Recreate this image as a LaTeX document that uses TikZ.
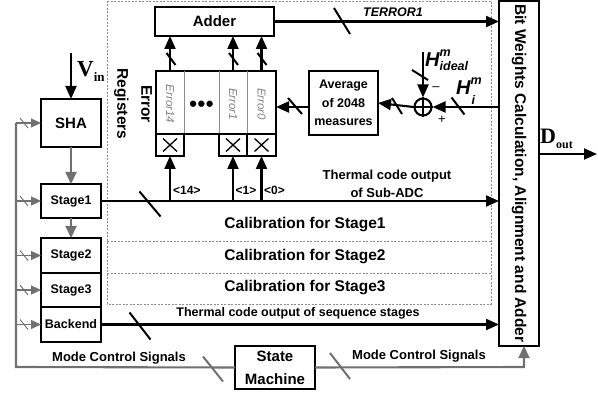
\documentclass[tikz,border=0pt]{standalone}
\usepackage{fontspec}
\setmainfont{Liberation Sans}
\newfontfamily\serifb{Liberation Serif}
\usetikzlibrary{arrows.meta}
\definecolor{mc}{RGB}{112,112,112}
\definecolor{dl}{RGB}{140,140,140}
\definecolor{et}{RGB}{130,130,130}
\newcommand{\fs}[1]{\fontsize{#1}{#1}\selectfont}
\newcommand{\bsl}[5]{\draw[line width=2pt,#5] ({#1-#3},{#2-#4}) -- ({#1+#3},{#2+#4});}
\newcommand{\xmark}[1]{\draw[line width=1.3pt] (#1.center) +(-7,-6.5) -- +(7,6.5) (#1.center) +(-7,6.5) -- +(7,-6.5);}
\begin{document}
\begin{tikzpicture}[x=1pt,y=-1pt,
  blk/.style={draw, line width=2.1pt, inner sep=0pt, outer sep=0pt, font=\bfseries\fs{15}, align=center},
  stg/.style={blk, minimum width=60pt, font=\bfseries\fs{12.5}},
  arr/.style={line width=2.1pt, -{Triangle[length=13pt,width=11pt]}},
  garr/.style={color=mc, line width=2.1pt, -{Triangle[length=12pt,width=11pt]}},
  gbr/.style={color=mc, line width=1.1pt, -{Triangle[length=10pt,width=9pt]}},
  gl/.style={color=mc, line width=2.1pt},
  dashl/.style={draw=dl, line width=0.8pt, dash pattern=on 2pt off 1.5pt},
  cellt/.style={rotate=-90, font=\itshape\fs{11.5}, text=et},
  lbl/.style={font=\bfseries\fs{12}, inner sep=0pt},
  cal/.style={font=\bfseries\fs{15.5}}]
\useasboundingbox (0,0) rectangle (598,393);

% calibration dashed region
\draw[dashl] (107,1) rectangle (491,304);
\draw[dashl] (107,241) -- (491,241);
\draw[dashl] (107,273) -- (491,273);

% blocks
\node[blk, minimum width=119pt, minimum height=29pt] (adder) at (214.5,21.5) {Adder};
\node[blk, minimum width=120pt, minimum height=63pt] (reg) at (216,102.5) {};
\draw[line width=0.6pt, black!45] (184,71) -- (184,134) (219,71) -- (219,134) (247,71) -- (247,134);
\node[cellt] (e14) at (170,104) {Error14};
\node[font=\bfseries\fs{22}] (dots) at (201.5,106) {\textbullet\hspace{0.5pt}\textbullet\hspace{0.5pt}\textbullet};
\node[cellt] (e1) at (233,104) {Error1};
\node[cellt] (e0) at (261.5,104) {Error0};
\node[blk, minimum width=28pt, minimum height=22pt] (x14) at (170,145) {};
\node[blk, minimum width=28pt, minimum height=22pt] (x1) at (233,145) {};
\node[blk, minimum width=29pt, minimum height=22pt] (x0) at (261.5,145) {};
\xmark{x14}\xmark{x1}\xmark{x0}
\node[rotate=-90, font=\bfseries\fontsize{15.5}{24}\selectfont, align=center] (erl) at (133,104) {Error\\Registers};

\node[blk, minimum width=69pt, minimum height=64pt, font=\bfseries\fontsize{12.5}{18.5}\selectfont] (avg) at (343.5,103) {Average\\of 2048\\measures};
\node[circle, draw, line width=2.1pt, minimum size=17pt, inner sep=0pt] (sum) at (423,107) {};
\draw[line width=1.6pt] (sum.north) -- (sum.south) (sum.west) -- (sum.east);

\node[blk, minimum width=40pt, minimum height=345pt] (bit) at (519,173.5) {};
\node[rotate=-90, font=\bfseries\fs{15.5}] (bitt) at (bit.center) {Bit Weights Calculation, Alignment and Adder};

\node[blk, minimum width=60pt, minimum height=48pt] (sha) at (71,123) {SHA};
\node[stg, minimum height=34pt] (st1) at (71,201) {Stage1};
\node[stg, minimum height=35pt] (st2) at (71,255.5) {Stage2};
\node[stg, minimum height=34pt] (st3) at (71,290) {Stage3};
\node[stg, minimum height=35pt] (bk) at (71,324.5) {Backend};
\node[blk, minimum width=80pt, minimum height=43pt, font=\bfseries\fontsize{15}{23}\selectfont] (sm) at (275,367.5) {State\\Machine};

% V_in and D_out
\coordinate (vin) at (71,53);
\draw[arr] (vin) -- (sha.north);
\node[font=\serifb\bfseries\fs{23}, anchor=base west, inner sep=0pt] (vl) at (77,77) {V\raisebox{-5pt}{\fs{13}in}};
\coordinate (dout) at (597,154);
\draw[arr] (bit.east |- dout) -- (dout);
\node[font=\serifb\bfseries\fs{22}, anchor=base west, inner sep=0pt] (dlb) at (540,144) {D\raisebox{-5pt}{\fs{12}out}};

% gray chain
\draw[garr] (sha.south) -- (st1.north);
\draw[garr] (st1.south) -- (st2.north);

% registers to adder
\draw[arr] (x14.south |- reg.north) -- (x14.south |- adder.south);
\draw[arr] (x1.south |- reg.north) -- (x1.south |- adder.south);
\draw[arr] (x0.south |- reg.north) -- (x0.south |- adder.south);
\bsl{171}{59}{4.5}{6}{}
\bsl{233.5}{59}{4.5}{6}{}
\bsl{262}{59}{4.5}{6}{}

% TERROR1
\draw[arr] (adder.east) -- (adder.east -| bit.west);
\bsl{342}{21}{8}{13}{}
\node[font=\bfseries\itshape\fs{12.5}] (terr) at (393,12) {TERROR1};

% H path
\draw[arr] (sum -| bit.west) -- (sum.east);
\draw[arr] (sum.west) -- (avg.east);
\draw[arr] (avg.west |- sum) -- (reg.east |- sum);
\coordinate (hin) at (423,52);
\draw[arr] (hin) -- (sum.north);
\bsl{458}{106}{6.5}{8.5}{}
\bsl{397}{106}{5}{8}{}
\bsl{295}{106}{7}{8}{}
\bsl{420}{75}{8}{5}{}
\node[anchor=base west, inner sep=0pt, font=\bfseries\itshape] (hid) at (425,67) {\fs{20}H\fs{12.5}\rlap{\raisebox{10pt}{m}}\raisebox{-4pt}{ideal}};
\node[anchor=base west, inner sep=0pt, font=\bfseries\itshape] (hi) at (456,95) {\fs{20}H\fs{12.5}\rlap{\raisebox{10pt}{m}}\raisebox{-10pt}{\hspace{1pt}i}};
\node[font=\fs{13}] (minus) at (436,89) {–};
\node[font=\fs{13}] (plus) at (442,120) {+};

% Stage1 output and taps
\draw[arr] (st1.east) -- (st1.east -| bit.west);
\bsl{150}{204}{10.5}{12.5}{}
\draw[arr] (x14.south |- st1.east) -- (x14.south);
\draw[arr] (x1.south |- st1.east) -- (x1.south);
\draw[arr] (x0.south |- st1.east) -- (x0.south);
\node[lbl, anchor=west] (l14) at (173,190) {<14>};
\node[lbl, anchor=west] (l1) at (235.5,190) {<1>};
\node[lbl, anchor=west] (l0) at (264,190) {<0>};
\node[font=\bfseries\fontsize{13}{18}\selectfont, align=center] (tc1) at (387,184) {Thermal code output\\of Sub-ADC};

\node[cal] (c1) at (305,225) {Calibration for Stage1};
\node[cal] (c2) at (305,257) {Calibration for Stage2};
\node[cal] (c3) at (305,288) {Calibration for Stage3};

% Backend output
\draw[arr] (bk.east) -- (bk.east -| bit.west);
\bsl{140}{326}{10.5}{13.5}{}
\node[font=\bfseries\fs{12.5}] (tc2) at (298,313) {Thermal code output of sequence stages};

% mode control
\coordinate (lc) at (16,367);
\draw[gl] (sm.west) -- (lc) -- (lc |- sha.west);
\draw[gbr] (lc |- sha.west) -- (sha.west);
\draw[gbr] (lc |- st1.west) -- (st1.west);
\draw[gbr] (lc |- st2.west) -- (st2.west);
\draw[gbr] (lc |- st3.west) -- (st3.west);
\draw[gbr] (lc |- bk.west) -- (bk.west);
\bsl{24}{123}{4}{5}{mc, line width=0.9pt}
\bsl{24}{201}{4}{5}{mc, line width=0.9pt}
\bsl{24}{255.5}{4}{5}{mc, line width=0.9pt}
\bsl{24}{290}{4}{5}{mc, line width=0.9pt}
\bsl{24}{324.5}{4}{5}{mc, line width=0.9pt}
\bsl{213}{369}{10}{12.5}{mc}
\coordinate (rc) at (524,367);
\draw[garr] (sm.east) -- (rc) -- (rc |- bit.south);
\bsl{340}{366}{10}{13}{mc}
\node[font=\bfseries\fs{13}] (mcl) at (119,358) {Mode Control Signals};
\node[font=\bfseries\fs{13}] (mcr) at (419,356) {Mode Control Signals};
\end{tikzpicture}
\end{document}
